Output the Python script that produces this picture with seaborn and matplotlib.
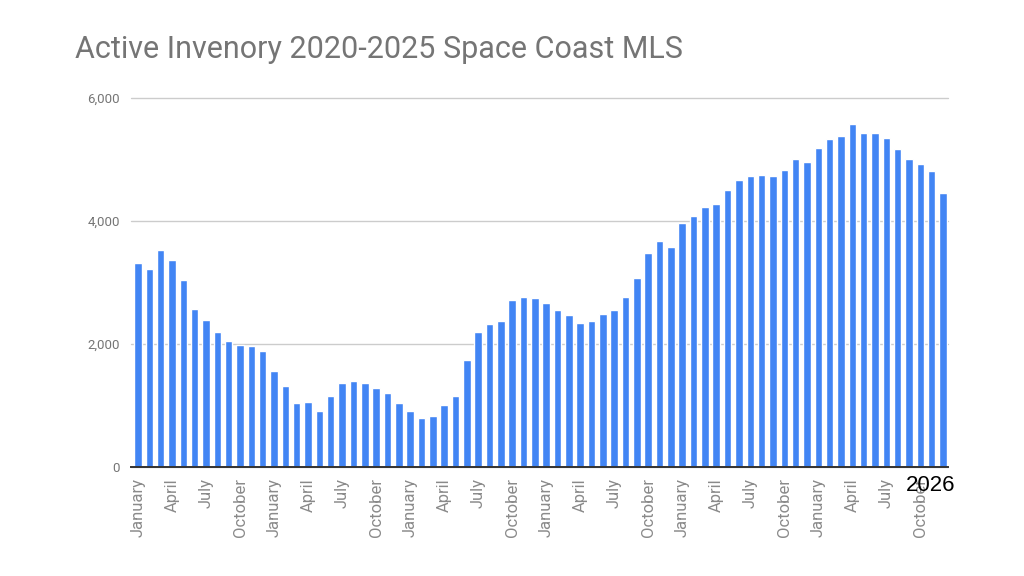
import matplotlib
matplotlib.use("Agg")
import matplotlib.pyplot as plt
import seaborn as sns
import pandas as pd

months = ["January", "February", "March", "April", "May", "June", "July",
          "August", "September", "October", "November", "December"]
years = [2020, 2021, 2022, 2023, 2024, 2025]

inventory = [
    3320, 3220, 3520, 3370, 3040, 2570, 2390, 2190, 2040, 1990, 1960, 1890,   # 2020
    1560, 1310, 1040, 1060, 910, 1160, 1360, 1390, 1370, 1290, 1210, 1040,    # 2021
    910, 790, 830, 1010, 1160, 1740, 2190, 2320, 2370, 2720, 2770, 2740,      # 2022
    2670, 2550, 2470, 2340, 2370, 2490, 2550, 2770, 3070, 3480, 3680, 3580,   # 2023
    3960, 4080, 4230, 4280, 4500, 4660, 4730, 4750, 4730, 4830, 5000, 4960,   # 2024
    5180, 5330, 5380, 5580, 5430, 5430, 5350, 5160, 5000, 4930, 4810, 4450,   # 2025
]
yticks = [0, 2000, 4000, 6000]
ytick_labels = ["0", "2,000", "4,000", "6,000"]
title = "Active Invenory 2020-2025 Space Coast MLS"
overlay = "2026"

df = pd.DataFrame({"idx": list(range(len(inventory))),
                   "month": [m for _ in years for m in months],
                   "value": inventory})

sns.set_theme(style="white")
plt.rcParams["font.family"] = ["Roboto", "DejaVu Sans"]

fig = plt.figure(figsize=(10.24, 5.76), dpi=100)
W, H = 1024, 576
left, right, top, bottom = 131, 948, 97, 467
ax = fig.add_axes([left / W, 1 - bottom / H, (right - left) / W, (bottom - top) / H])

sns.barplot(data=df, x="idx", y="value", color="#4285F4", saturation=1,
            width=0.66, ax=ax, order=list(range(len(inventory))))

n = len(inventory)
spacing = (943 - 138) / (n - 1)
ax.set_xlim(-(138 - left) / spacing, (n - 1) + (right - 943) / spacing)
ax.set_ylim(0, 6000 * 1.002)

ax.set_yticks(yticks)
ax.set_yticklabels(ytick_labels)
tick_pos = list(range(0, n, 3))
ax.set_xticks(tick_pos)
ax.set_xticklabels([df["month"][i] for i in tick_pos], rotation=90)

ax.tick_params(axis="y", length=0, pad=8, labelsize=9.5, labelcolor="#757575")
ax.tick_params(axis="x", length=0, pad=8, labelsize=12, labelcolor="#8a8a8a")
ax.set_xlabel("")
ax.set_ylabel("")

for s in ["top", "left", "right"]:
    ax.spines[s].set_visible(False)
ax.spines["bottom"].set_color("#333333")
ax.spines["bottom"].set_linewidth(1.4)
ax.spines["bottom"].set_zorder(5)

ax.yaxis.grid(True, color="#cccccc", linewidth=1)
ax.set_axisbelow(True)
for gl in ax.get_ygridlines():
    gl.set_clip_on(False)

fig.text(75 / W, 1 - 58 / H, title, fontsize=22, color="#757575",
         va="baseline", ha="left", family=["Roboto", "DejaVu Sans"])
fig.text(906 / W, 1 - 491 / H, overlay, fontsize=16, color="#000000",
         va="baseline", ha="left", family=["Liberation Sans", "DejaVu Sans"])

fig.savefig("out.png", dpi=100, facecolor="white")
